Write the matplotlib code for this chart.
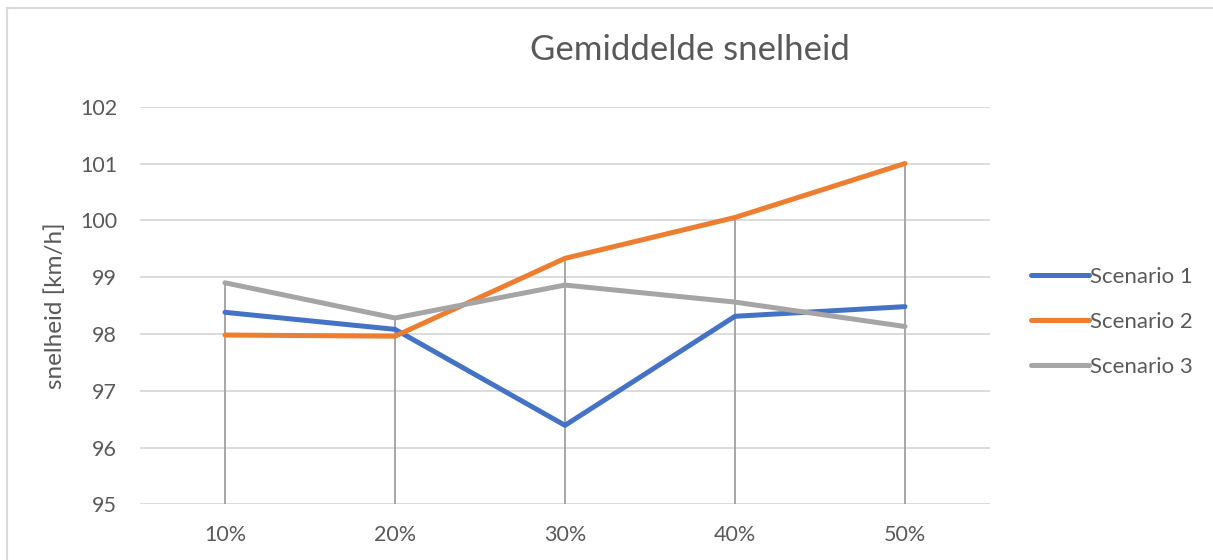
import matplotlib
matplotlib.use("Agg")
import matplotlib.pyplot as plt
from matplotlib.lines import Line2D
import numpy as np

categories = ["10%", "20%", "30%", "40%", "50%"]
scenario1 = [98.38, 98.08, 96.39, 98.31, 98.48]
scenario2 = [97.98, 97.96, 99.33, 100.05, 101.0]
scenario3 = [98.90, 98.28, 98.86, 98.56, 98.13]
series_names = ["Scenario 1", "Scenario 2", "Scenario 3"]
colors = ["#4472C4", "#ED7D31", "#A5A5A5"]
yticks = [95, 96, 97, 98, 99, 100, 101, 102]

plt.rcParams['font.family'] = ['Lato', 'DejaVu Sans']
W, H = 1213, 560
fig = plt.figure(figsize=(W / 100, H / 100), dpi=100)
fig.patch.set_facecolor("white")

left, right, bottom, top = 140, 990, 504.3, 106.7
ax = fig.add_axes([left / W, 1 - bottom / H, (right - left) / W, (bottom - top) / H])

x = np.arange(len(categories))
data = [scenario1, scenario2, scenario3]

ax.set_xlim(-0.5, len(categories) - 0.5)
ax.set_ylim(95, 102)
ax.set_yticks(yticks)
ax.set_xticks(x)
ax.set_xticklabels(categories)

for yv in yticks:
    ax.axhline(yv, color="#D9D9D9", lw=1.3, zorder=1)

# drop lines
maxvals = np.max(np.array(data), axis=0)
ax.vlines(x, 95, maxvals, color="#A6A6A6", lw=1.4, zorder=2)

for vals, name, c in zip(data, series_names, colors):
    ax.plot(x, vals, color=c, lw=3.6, label=name, solid_capstyle="round",
            solid_joinstyle="round", zorder=3)

for s in ax.spines.values():
    s.set_visible(False)
ax.tick_params(axis="both", length=0, labelsize=15.5, colors="#595959")
ax.tick_params(axis="y", pad=16.5)
ax.tick_params(axis="x", pad=15)
ax.set_ylabel("snelheid [km/h]", fontsize=17.5, color="#595959", labelpad=10)

fig.text(690 / W, 1 - 50 / H, "Gemiddelde snelheid", ha="center", va="center",
         fontsize=25, color="#595959")

leg = fig.legend(loc="center left", bbox_to_anchor=(1022 / W, 1 - 322 / H),
                 frameon=False, fontsize=16, handlelength=2.6, handletextpad=0.05,
                 labelspacing=1.13, borderaxespad=0)
for t in leg.get_texts():
    t.set_color("#595959")

# outer border
fig.add_artist(Line2D([7 / W, 1], [1 - 8 / H, 1 - 8 / H], transform=fig.transFigure,
                      color="#D9D9D9", lw=1.5))
fig.add_artist(Line2D([7 / W, 7 / W], [0, 1 - 8 / H], transform=fig.transFigure,
                      color="#D9D9D9", lw=1.5))

fig.savefig("out.png", dpi=100, facecolor="white")
